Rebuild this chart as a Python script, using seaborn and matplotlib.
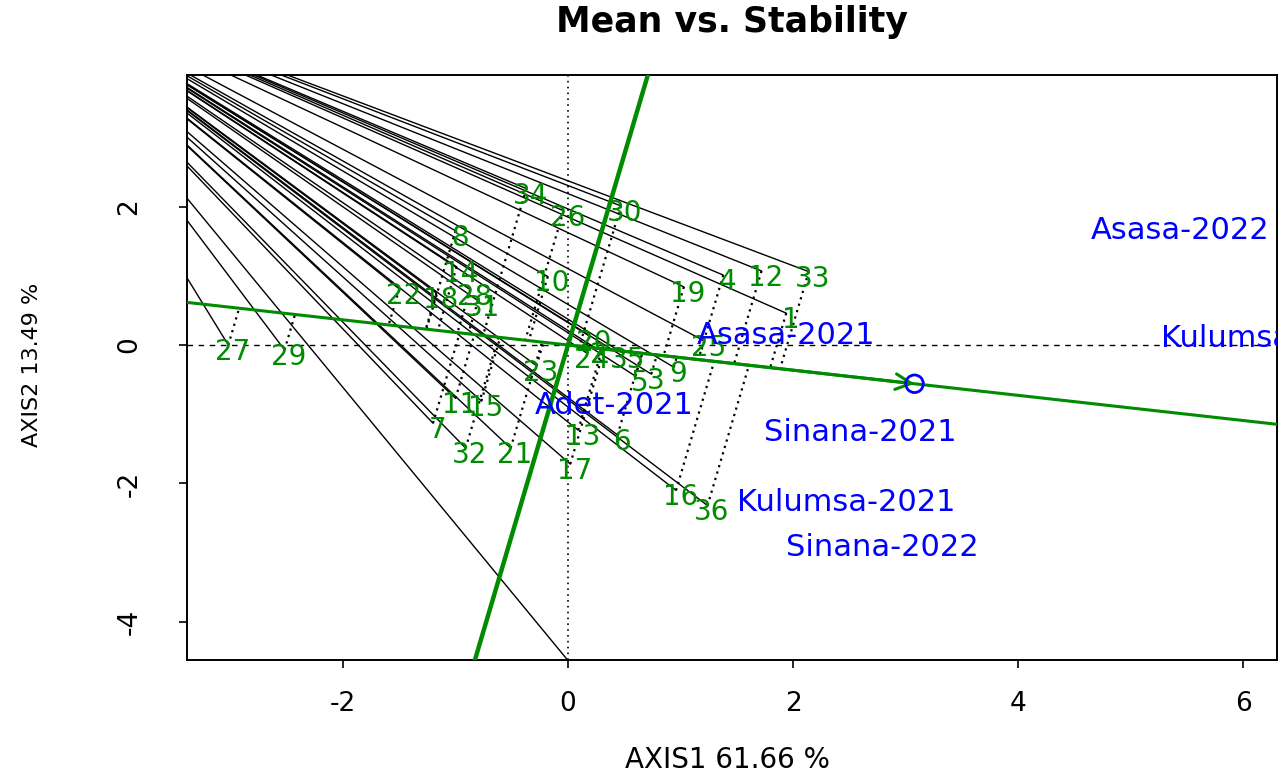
import numpy as np
import matplotlib
matplotlib.use("Agg")
import matplotlib.pyplot as plt
import seaborn as sns

# genotype scores (AXIS1, AXIS2)
genotypes = [str(i) for i in range(1, 37)]
gen_x = [1.94, 0.24, 0.74, 1.38, 0.60, 0.44, -1.20, -1.00, 0.94, -0.18,
         -1.00, 1.72, 0.09, -0.99, -0.77, 0.96, 0.02, -1.17, 1.03, 0.19,
         -0.51, -1.50, -0.28, 0.17, 1.21, -0.04, -3.02, -0.87, -2.52, 0.47,
         -0.80, -0.91, 2.14, -0.37, 0.49, 1.24]
gen_y = [0.46, -0.04, -0.42, 1.01, -0.45, -1.30, -1.13, 1.65, -0.32, 0.99,
         -0.77, 1.07, -1.23, 1.13, -0.81, -2.10, -1.72, 0.75, 0.84, 0.13,
         -1.49, 0.81, -0.30, -0.12, 0.06, 1.94, 0.00, 0.80, -0.07, 2.01,
         0.64, -1.49, 1.06, 2.26, -0.12, -2.32]

# environment scores
environments = ["Asasa-2022", "Kulumsa-2022", "Asasa-2021", "Sinana-2021",
                "Adet-2021", "Kulumsa-2021", "Sinana-2022"]
env_x = [5.44, 6.24, 1.94, 2.60, 0.41, 2.47, 2.79]
env_y = [1.66, 0.10, 0.14, -1.26, -0.88, -2.27, -2.92]

# average environment coordinate
mean_env = (3.08, -0.56)

# black guide lines all start from this far point
ray_source = (-5.1, 5.5)
extra_ray_end = (0.0, -4.56)

xlim = (-3.387, 6.302)
ylim = (-4.552, 3.902)
xticks = [-2, 0, 2, 4, 6]
yticks = [-4, -2, 0, 2]

GREEN = "#008B00"
BLUE = "#0000FF"

sns.set_style("ticks")
plt.rcParams["font.family"] = ["DejaVu Sans"]
plt.rcParams["axes.unicode_minus"] = False
for key in ["text.color", "axes.labelcolor", "xtick.color", "ytick.color"]:
    plt.rcParams[key] = "black"

fig = plt.figure(figsize=(12.79, 7.77), dpi=100)
ax = fig.add_axes([187 / 1279, 117 / 777, 1090 / 1279, 585 / 777])

gx = np.array(gen_x)
gy = np.array(gen_y)

# rays to the genotypes
for x, y in list(zip(gx, gy)) + [extra_ray_end]:
    ax.plot([ray_source[0], x], [ray_source[1], y], color="black", lw=1.0, zorder=1)

# reference lines through origin
ax.axhline(0, color="black", lw=1.0, ls=(0, (4, 4)), zorder=1)
ax.axvline(0, color="black", lw=1.2, ls=(0, (1, 2.5)), zorder=1)

# ATC abscissa / ordinate
mx, my = mean_env
u = np.array([mx, my]) / np.hypot(mx, my)
t = np.linspace(-20, 20, 2)
ax.plot(t * u[0], t * u[1], color=GREEN, lw=2.2, zorder=3)
ax.plot(-t * u[1], t * u[0], color=GREEN, lw=3.2, zorder=3)

# projections of genotypes onto the ATC abscissa
proj = gx * u[0] + gy * u[1]
for x, y, p in zip(gx, gy, proj):
    ax.plot([x, p * u[0]], [y, p * u[1]], color="black", lw=1.6,
            ls=(0, (1, 2)), zorder=2)

# arrow to the mean environment
ax.annotate("", xy=mean_env, xytext=(0, 0),
            arrowprops=dict(arrowstyle="->", color=GREEN, lw=2.2,
                            mutation_scale=28, shrinkA=0, shrinkB=0),
            zorder=3)
sns.scatterplot(x=[mx], y=[my], ax=ax, marker="o", s=160,
                facecolor="none", edgecolor=BLUE, linewidth=2, zorder=5)

# labels
for name, x, y in zip(genotypes, gx, gy):
    ax.annotate(name, (x, y), xytext=(3, -5), textcoords="offset points",
                ha="center", va="center", color=GREEN, fontsize=20,
                annotation_clip=False, clip_on=True, zorder=6)
for name, x, y in zip(environments, env_x, env_y):
    ax.text(x, y, name, ha="center", va="center", color=BLUE, fontsize=22,
            clip_on=True, zorder=6)

ax.set_xlim(xlim)
ax.set_ylim(ylim)
ax.set_xticks(xticks)
ax.set_yticks(yticks)
ax.tick_params(axis="both", direction="out", length=6, width=1.2,
               labelsize=19, colors="black")
ax.tick_params(axis="x", pad=16)
ax.tick_params(axis="y", pad=26)
for lab in ax.get_yticklabels():
    lab.set_rotation(90)
    lab.set_va("center")
for s in ax.spines.values():
    s.set_color("black")
    s.set_linewidth(1.4)

ax.set_xlabel("AXIS1 61.66 %", fontsize=20, va="center")
ax.xaxis.set_label_coords(0.496, -0.171)
ax.set_ylabel("AXIS2 13.49 %", fontsize=16, va="center")
ax.yaxis.set_label_coords(-0.142, 0.504)
ax.set_title("Mean vs. Stability", fontsize=25, fontweight="bold",
             y=1.0735, va="baseline", pad=0)

fig.savefig("out.png", dpi=100)
